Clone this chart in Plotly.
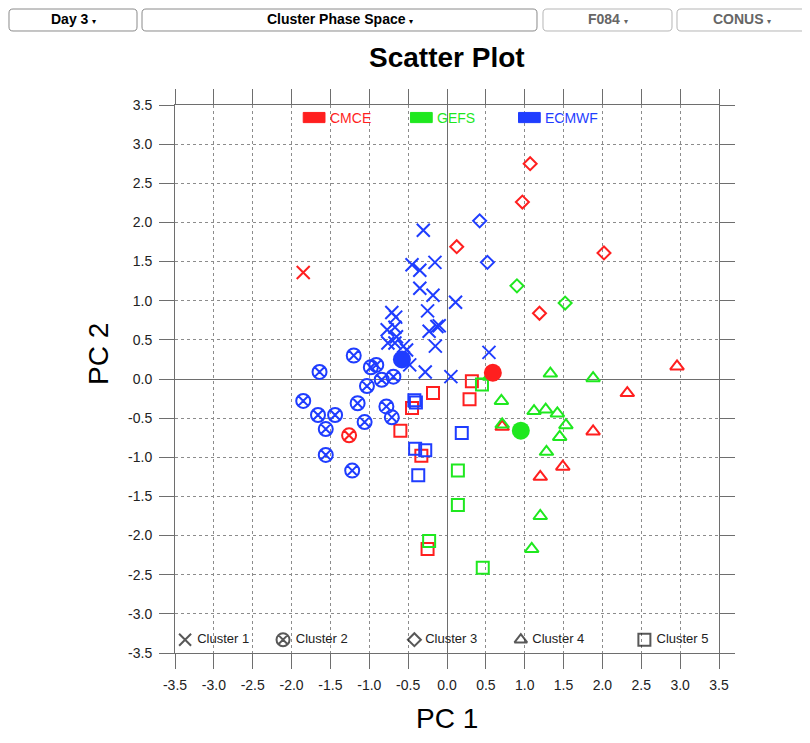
import plotly.graph_objects as go

# ---------------- data (PC1, PC2, cluster id) ----------------
cmce_pc1 = [-1.85, -1.26, 1.07, 0.97, 2.02, 1.19, 0.125, 0.71, 1.88, 1.49, 1.20, 2.96, 2.32,
            0.32, -0.18, 0.29, -0.45, -0.60, -0.33, -0.25]
cmce_pc2 = [1.36, -0.72, 2.75, 2.26, 1.61, 0.84, 1.69, -0.61, -0.67, -1.12, -1.25, 0.16, -0.18,
            -0.03, -0.18, -0.26, -0.37, -0.66, -0.98, -2.17]
cmce_cluster = [1, 2, 3, 3, 3, 3, 3, 4, 4, 4, 4, 4, 4, 5, 5, 5, 5, 5, 5, 5]

gefs_pc1 = [0.90, 1.52, 0.55, 1.33, 1.88, 0.70, 1.12, 1.27, 1.42, 1.53, 1.45, 0.71, 1.28, 1.20, 1.09,
            0.45, 0.14, 0.14, -0.23, 0.46]
gefs_pc2 = [1.19, 0.97, 0.03, 0.07, 0.01, -0.28, -0.41, -0.39, -0.44, -0.59, -0.74, -0.58, -0.93, -1.75, -2.17,
            -0.07, -1.17, -1.61, -2.07, -2.41]
gefs_cluster = [3, 3, 4, 4, 4, 4, 4, 4, 4, 4, 4, 4, 4, 4, 4, 5, 5, 5, 5, 5]

ecmwf_pc1 = [-0.305, -0.45, -0.35, -0.155, -0.35, -0.18, 0.11, -0.71, -0.66, -0.25, -0.77, -0.67, -0.65,
             -0.76, -0.67, -0.56, -0.52, -0.48, -0.23, -0.13, -0.10, -0.15, -0.28, 0.05, 0.54,
             -1.20, -1.64, -0.91, -0.98, -0.84, -0.69, -1.03, -1.85, -1.15, -0.78, -1.66, -1.44, -0.71,
             -1.06, -1.56, -1.56, -1.22,
             0.42, 0.52,
             -0.42, -0.40, 0.19, -0.41, -0.28, -0.37]
ecmwf_pc2 = [1.90, 1.46, 1.39, 1.49, 1.16, 1.07, 0.98, 0.85, 0.79, 0.87, 0.63, 0.66, 0.54,
             0.46, 0.46, 0.42, 0.37, 0.18, 0.61, 0.67, 0.68, 0.42, 0.09, 0.03, 0.34,
             0.30, 0.09, 0.18, 0.15, -0.01, 0.03, -0.09, -0.28, -0.31, -0.35, -0.46, -0.46, -0.49,
             -0.55, -0.64, -0.97, -1.17,
             2.02, 1.49,
             -0.27, -0.30, -0.69, -0.89, -0.91, -1.23]
ecmwf_cluster = [1] * 25 + [2] * 17 + [3] * 2 + [5] * 6

mean_models = ["CMCE", "GEFS", "ECMWF"]
mean_pc1 = [0.59, 0.95, -0.58]
mean_pc2 = [0.08, -0.66, 0.25]

cluster_names = ["Cluster 1", "Cluster 2", "Cluster 3", "Cluster 4", "Cluster 5"]
cluster_key_pc1 = [-3.37, -2.11, -0.42, 0.95, 2.54]
cluster_key_pc2 = [-3.33, -3.33, -3.33, -3.33, -3.33]

model_names = ["CMCE", "GEFS", "ECMWF"]
model_key_pc1 = [-1.71, -0.33, 1.06]
model_key_pc2 = [3.34, 3.34, 3.34]

tick_vals = [-3.5, -3.0, -2.5, -2.0, -1.5, -1.0, -0.5, 0.0, 0.5, 1.0, 1.5, 2.0, 2.5, 3.0, 3.5]
tick_text = ["%.1f" % v for v in tick_vals]

# ---------------- styles ----------------
colors = {"CMCE": "#ff1f1f", "GEFS": "#1fe81f", "ECMWF": "#1f3dff"}
symbols = {1: "x-thin-open", 2: "circle-x-open", 3: "diamond-open", 4: "triangle-up-open", 5: "square-open"}
sizes = {1: 13, 2: 14, 3: 10, 4: 12, 5: 12}
FONT = "Liberation Sans, Arial, Helvetica, sans-serif"

fig = go.Figure()

models = [("CMCE", cmce_pc1, cmce_pc2, cmce_cluster),
          ("GEFS", gefs_pc1, gefs_pc2, gefs_cluster),
          ("ECMWF", ecmwf_pc1, ecmwf_pc2, ecmwf_cluster)]

for name, xs, ys, cs in models:
    for c in range(1, 6):
        px = [x for x, k in zip(xs, cs) if k == c]
        py = [y for y, k in zip(ys, cs) if k == c]
        if not px:
            continue
        fig.add_trace(go.Scatter(
            x=px, y=py, mode="markers", showlegend=False, hoverinfo="x+y",
            marker=dict(symbol=symbols[c], size=sizes[c], color=colors[name],
                        line=dict(color=colors[name], width=2))))

fig.add_trace(go.Scatter(
    x=mean_pc1, y=mean_pc2, mode="markers", showlegend=False,
    marker=dict(symbol="circle", size=18, color=[colors[m] for m in mean_models],
                line=dict(width=0))))

# bottom cluster key
fig.add_trace(go.Scatter(
    x=cluster_key_pc1, y=cluster_key_pc2, mode="markers+text", showlegend=False,
    text=[" " + n for n in cluster_names], textposition="middle right",
    textfont=dict(family=FONT, size=13, color="#222"),
    marker=dict(symbol=[symbols[c] for c in range(1, 6)], size=[12, 13, 10, 11, 12],
                color="#111", line=dict(color="#111", width=2)), hoverinfo="skip"))

# top model key
shapes = []
annotations = []
for name, kx, ky in zip(model_names, model_key_pc1, model_key_pc2):
    shapes.append(dict(type="rect", xref="x", yref="y",
                       x0=kx - 0.14, x1=kx + 0.14, y0=ky - 0.065, y1=ky + 0.065,
                       fillcolor=colors[name], line=dict(color=colors[name], width=1), layer="above"))
    annotations.append(dict(x=kx + 0.18, y=ky, xref="x", yref="y", text=name, showarrow=False,
                            xanchor="left", yanchor="middle",
                            font=dict(family=FONT, size=14, color=colors[name])))

# ---------------- geometry (page has an 8px body margin) ----------------
OFF = 8
W, H = 810 - OFF, 743 - OFF
L, R, T, B = 175 - OFF, 719 - OFF, 105 - OFF, 653 - OFF


def px2paper(px, py):
    # px, py given in reference-image pixels
    return (px - OFF - L) / (R - L), (B - (py - OFF)) / (B - T)


def rounded(x0, y0, x1, y1, r=4):
    def P(x, y):
        a, b = px2paper(x, y)
        return "%.5f,%.5f" % (a, b)
    return ("M" + P(x0 + r, y0) + " L" + P(x1 - r, y0) + " Q" + P(x1, y0) + " " + P(x1, y0 + r) +
            " L" + P(x1, y1 - r) + " Q" + P(x1, y1) + " " + P(x1 - r, y1) +
            " L" + P(x0 + r, y1) + " Q" + P(x0, y1) + " " + P(x0, y1 - r) +
            " L" + P(x0, y0 + r) + " Q" + P(x0, y0) + " " + P(x0 + r, y0) + " Z")


buttons = [("Day 3", 9, 137, "#000", "#8a8a8a"),
           ("Cluster Phase Space", 142, 537, "#000", "#8a8a8a"),
           ("F084", 543, 672, "#666", "#b5b5b5"),
           ("CONUS", 677, 806, "#666", "#b5b5b5")]
for label, bx0, bx1, tc, bc in buttons:
    shapes.append(dict(type="path", xref="paper", yref="paper", path=rounded(bx0, 9, bx1, 31),
                       line=dict(color=bc, width=1), fillcolor="white"))
    cx, cy = px2paper((bx0 + bx1) / 2, 19)
    annotations.append(dict(x=cx, y=cy, xref="paper", yref="paper", showarrow=False,
                            text="<b>%s</b> <span style='font-size:8px'>▾</span>" % label,
                            xanchor="center", yanchor="middle",
                            font=dict(family=FONT, size=14, color=tc)))

# title and axis titles
tx, ty = px2paper(447, 58)
annotations.append(dict(x=tx, y=ty, xref="paper", yref="paper", showarrow=False,
                        text="<b>Scatter Plot</b>", xanchor="center", yanchor="middle",
                        font=dict(family=FONT, size=28, color="#000")))
ax, ay = px2paper(447, 718)
annotations.append(dict(x=ax, y=ay, xref="paper", yref="paper", showarrow=False,
                        text="PC 1", xanchor="center", yanchor="middle",
                        font=dict(family=FONT, size=28, color="#000")))
bx, by = px2paper(98, 354)
annotations.append(dict(x=bx, y=by, xref="paper", yref="paper", showarrow=False,
                        text="PC 2", xanchor="center", yanchor="middle", textangle=-90,
                        font=dict(family=FONT, size=28, color="#000")))

axis_common = dict(range=[-3.5, 3.5], tickmode="array", tickvals=tick_vals, ticktext=tick_text,
                   showgrid=True, gridcolor="#8c8c8c", griddash="3px,3px", gridwidth=1,
                   zeroline=True, zerolinecolor="#6e6e6e", zerolinewidth=1,
                   showline=True, linecolor="#6e6e6e", linewidth=1, mirror="ticks",
                   ticks="outside", ticklen=15, tickcolor="#6e6e6e", tickwidth=1,
                   ticklabelstandoff=4,
                   tickfont=dict(family=FONT, size=14, color="#222"), fixedrange=True)

fig.update_layout(
    width=W, height=H,
    margin=dict(l=L, r=W - R, t=T, b=H - B, autoexpand=False),
    paper_bgcolor="white", plot_bgcolor="white",
    xaxis=dict(**axis_common),
    yaxis=dict(**axis_common),
    shapes=shapes, annotations=annotations,
    showlegend=False,
)

fig.write_html("out.html")
